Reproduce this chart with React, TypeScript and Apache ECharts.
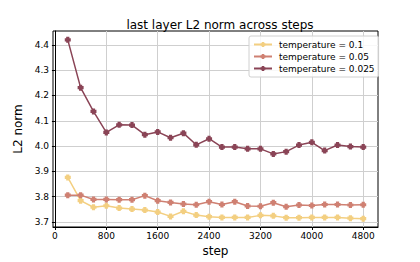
import React, { useEffect, useRef } from "react";
import * as echarts from "echarts";

const steps = [200, 400, 600, 800, 1000, 1200, 1400, 1600, 1800, 2000, 2200, 2400, 2600, 2800, 3000, 3200, 3400, 3600, 3800, 4000, 4200, 4400, 4600, 4800];
const temp01 = [3.876, 3.784, 3.758, 3.764, 3.755, 3.751, 3.747, 3.739, 3.722, 3.742, 3.727, 3.721, 3.718, 3.718, 3.718, 3.726, 3.724, 3.717, 3.717, 3.718, 3.718, 3.718, 3.715, 3.713];
const temp005 = [3.806, 3.806, 3.789, 3.789, 3.788, 3.788, 3.804, 3.784, 3.777, 3.771, 3.768, 3.780, 3.769, 3.780, 3.763, 3.762, 3.776, 3.760, 3.767, 3.765, 3.769, 3.769, 3.767, 3.768];
const temp0025 = [4.420, 4.231, 4.137, 4.054, 4.084, 4.083, 4.045, 4.056, 4.033, 4.051, 4.005, 4.029, 3.996, 3.996, 3.989, 3.989, 3.969, 3.978, 4.004, 4.015, 3.982, 4.004, 3.998, 3.996];
const seriesNames = ["temperature = 0.1", "temperature = 0.05", "temperature = 0.025"];
const colors = ["#f3cf81", "#cf8072", "#8a4456"];
const xTicks = [0, 800, 1600, 2400, 3200, 4000, 4800];
const yTicks = [3.7, 3.8, 3.9, 4.0, 4.1, 4.2, 4.3, 4.4];

const FONT = "DejaVu Sans";
const MARK = "path://M0.7,0H2.3V0.7H3V2.3H2.3V3H0.7V2.3H0V0.7H0.7Z";

export default function App() {
  const ref = useRef<HTMLDivElement>(null);
  useEffect(() => {
    if (!ref.current) return;
    const chart = echarts.init(ref.current, undefined, { renderer: "svg" });
    const all = [temp01, temp005, temp0025];
    chart.setOption({
      animation: false,
      backgroundColor: "#fff",
      title: {
        text: "last layer L2 norm across steps",
        left: 215,
        textAlign: "center",
        top: 14,
        textStyle: { fontFamily: FONT, fontSize: 12, fontWeight: "normal", color: "#000" },
      },
      grid: {
        left: 53, right: 42, top: 31, bottom: 33,
        show: true, borderColor: "#000", borderWidth: 1, backgroundColor: "transparent",
      },
      legend: {
        orient: "vertical",
        left: 249,
        top: 36,
        padding: [4, 4, 4, 4],
        itemGap: 3,
        itemWidth: 18,
        itemHeight: 6,
        borderColor: "#d0d0d0",
        borderWidth: 1,
        borderRadius: 2,
        backgroundColor: "rgba(255,255,255,0.85)",
        textStyle: { fontFamily: FONT, fontSize: 9, color: "#000", padding: [0, 0, 0, 2] },
        data: seriesNames,
      },
      xAxis: {
        type: "value",
        min: -30,
        max: 5030,
        name: "step",
        nameLocation: "middle",
        nameGap: 18,
        nameTextStyle: { fontFamily: FONT, fontSize: 12, color: "#000" },
        axisLine: { show: true, lineStyle: { color: "#000" } },
        axisTick: { show: true, customValues: xTicks, length: 3, lineStyle: { color: "#000" } },
        axisLabel: { customValues: xTicks, fontFamily: FONT, fontSize: 9, color: "#000", margin: 4, formatter: (v: number) => String(v) },
        splitLine: { show: true, lineStyle: { color: "#cfcfcf", width: 1 } },
      },
      yAxis: {
        type: "value",
        min: 3.68,
        max: 4.455,
        name: "L2 norm",
        nameLocation: "middle",
        nameGap: 28,
        nameTextStyle: { fontFamily: FONT, fontSize: 12, color: "#000" },
        axisLine: { show: true, lineStyle: { color: "#000" } },
        axisTick: { show: true, customValues: yTicks, length: 3, lineStyle: { color: "#000" } },
        axisLabel: { customValues: yTicks, fontFamily: FONT, fontSize: 9, color: "#000", margin: 4, formatter: (v: number) => v.toFixed(1) },
        splitLine: { show: true, lineStyle: { color: "#cfcfcf", width: 1 } },
      },
      series: all.map((vals, i) => ({
        name: seriesNames[i],
        type: "line",
        data: steps.map((s, j) => [s, vals[j]]),
        symbol: MARK,
        symbolSize: 6,
        showAllSymbol: true,
        itemStyle: { color: colors[i] },
        lineStyle: { color: colors[i], width: 1.5 },
        z: 3 + i,
      })),
    });
    return () => chart.dispose();
  }, []);
  return <div ref={ref} style={{ position: "fixed", left: 0, top: 0, width: 420, height: 262 }} />;
}
